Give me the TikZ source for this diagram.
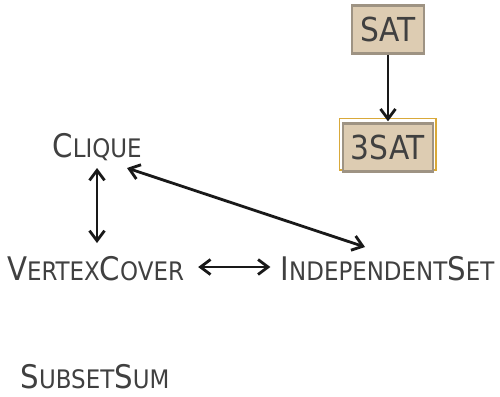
\documentclass[tikz,border=0pt]{standalone}
\usepackage{fontspec}
\setmainfont{DejaVu Sans Condensed}
\usetikzlibrary{arrows.meta}
\definecolor{txt}{HTML}{404040}
\definecolor{boxfill}{HTML}{DDCCB2}
\definecolor{boxline}{HTML}{9E9383}
\definecolor{frameyel}{HTML}{D9A93A}
\newcommand{\bigc}[1]{{\fontsize{32.5}{33}\selectfont #1}}
\newcommand{\smc}[1]{{\fontsize{25.5}{26}\selectfont #1}}
\tikzset{
  lbl/.style={text=txt, inner sep=0pt, anchor=base},
  probbox/.style={draw=boxline, line width=2.4pt, fill=boxfill, text=txt, inner sep=0pt, font=\fontsize{33}{33}\selectfont},
  conn/.style={line width=2.8pt, draw=black!90, arrows={Straight Barb[length=10pt,width=15pt]-Straight Barb[length=10pt,width=15pt]}},
  oneway/.style={line width=2.8pt, draw=black!90, arrows={-Straight Barb[length=10pt,width=15pt]}}
}
\begin{document}
\begin{tikzpicture}[x=1pt,y=-1pt]
\useasboundingbox (0,0) rectangle (500,396);
% 3SAT yellow frame
\draw[frameyel, line width=1.5pt] (339.5,118.5) rectangle (436,170);
\node[probbox, minimum width=72pt, minimum height=48pt] (sat) at (388,29.5) {SAT};
\node[probbox, minimum width=90pt, minimum height=48pt] (t3) at (388,147.5) {3SAT};
\node[lbl] (clique) at (97,157) {\bigc{C}\smc{LIQUE}};
\node[lbl] (vc) at (95.5,280) {\bigc{V}\smc{ERTEX}\bigc{C}\smc{OVER}};
\node[lbl] (is) at (387.5,280) {\bigc{I}\smc{NDEPENDENT}\bigc{S}\smc{ET}};
\node[lbl] (ss) at (95,388) {\bigc{S}\smc{UBSET}\bigc{S}\smc{UM}};
\draw[oneway] (sat.south) -- ([yshift=1pt]t3.north);
\draw[conn] ([yshift=-11pt]clique.base) -- ([xshift=1.5pt,yshift=37pt]vc.base);
\draw[conn] ([xshift=30pt,yshift=-11pt]clique.base) -- ([xshift=-22.5pt,yshift=33pt]is.base);
\draw[conn] ([xshift=14pt,yshift=13pt]vc.base east) -- ([xshift=-10pt,yshift=13pt]is.base west);
\end{tikzpicture}
\end{document}
